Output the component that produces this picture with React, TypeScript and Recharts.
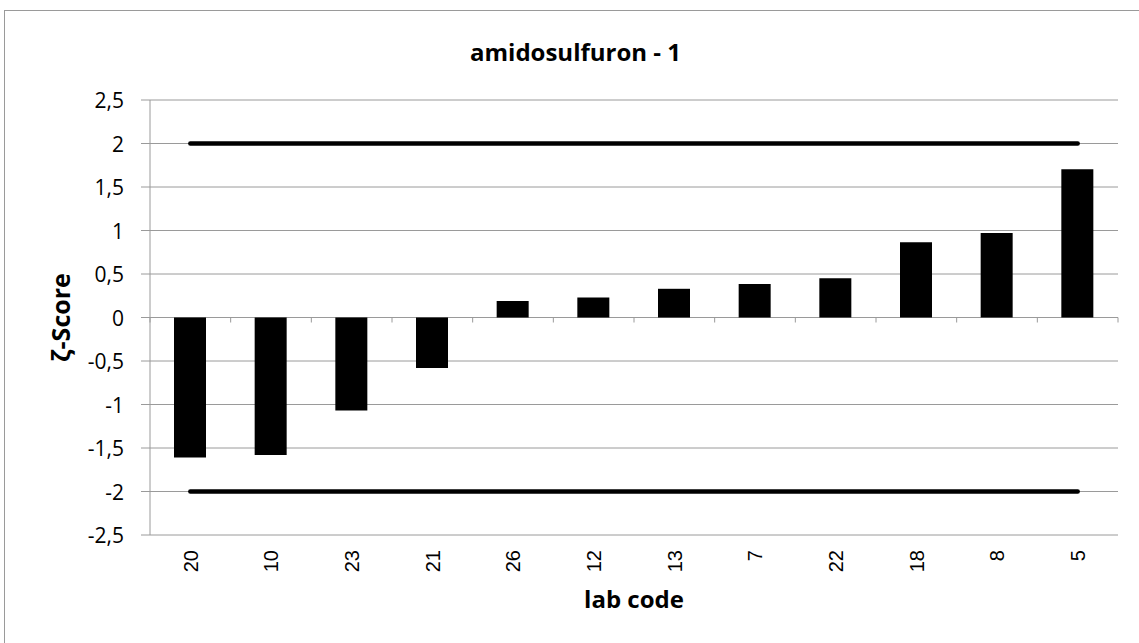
import React from 'react';
import { ComposedChart, Bar, Line, XAxis, YAxis, CartesianGrid } from 'recharts';

// lab codes in plotted order, zeta scores
const labCodes = ['20', '10', '23', '21', '26', '12', '13', '7', '22', '18', '8', '5'];
const zetaScores = [-1.61, -1.58, -1.07, -0.58, 0.19, 0.23, 0.33, 0.385, 0.45, 0.865, 0.97, 1.705];
const upperLimit = [2, 2, 2, 2, 2, 2, 2, 2, 2, 2, 2, 2];
const lowerLimit = [-2, -2, -2, -2, -2, -2, -2, -2, -2, -2, -2, -2];
const yTicks = [-2.5, -2, -1.5, -1, -0.5, 0, 0.5, 1, 1.5, 2, 2.5];

const data = labCodes.map((code, i) => ({
  code,
  score: zetaScores[i],
  upper: upperLimit[i],
  lower: lowerLimit[i],
}));

const W = 1139;
const H = 643;
const M = { top: 100, right: 21, bottom: 0, left: 0 };
const Y_AXIS_W = 150;
const X_AXIS_H = 108;
const PLOT_H = H - M.top - M.bottom - X_AXIS_H;
const PLOT_W = W - M.left - M.right - Y_AXIS_W;
const BAND = PLOT_W / labCodes.length;
// category axis crosses at zero, like the spreadsheet original
const ZERO_Y = M.top + (PLOT_H * 2.5) / 5;

const grey = '#9a9a9a';
const calibriLike = '"Open Sans", Lato, sans-serif';

const XTick = (props: any) => {
  const { x, y, payload, index } = props;
  return (
    <g>
      <line x1={x - BAND / 2} y1={ZERO_Y} x2={x - BAND / 2} y2={ZERO_Y + 5} stroke={grey} />
      {index === labCodes.length - 1 && (
        <line x1={x + BAND / 2} y1={ZERO_Y} x2={x + BAND / 2} y2={ZERO_Y + 5} stroke={grey} />
      )}
      <text
        x={x}
        y={y}
        transform={`rotate(-90, ${x}, ${y})`}
        textAnchor="end"
        dy="0.36em"
        fontFamily='"Liberation Sans", Arial, sans-serif'
        fontSize={20}
        fill="#000"
      >
        {payload.value}
      </text>
    </g>
  );
};

const YTick = (props: any) => {
  const { y, payload } = props;
  return (
    <text
      x={124}
      y={y}
      textAnchor="end"
      dominantBaseline="central"
      fontFamily={calibriLike}
      fontSize={21}
      fill="#000"
    >
      {String(payload.value).replace('.', ',')}
    </text>
  );
};

const yLabel = (props: any) => {
  const vb = props.viewBox;
  const cx = vb.x + 60;
  const cy = vb.y + vb.height / 2;
  return (
    <text
      x={cx}
      y={cy}
      transform={`rotate(-90, ${cx}, ${cy})`}
      textAnchor="middle"
      dominantBaseline="central"
      fontFamily={calibriLike}
      fontWeight="bold"
      fontSize={25}
      fill="#000"
    >
      ζ-Score
    </text>
  );
};

const xLabel = (props: any) => {
  const vb = props.viewBox;
  return (
    <text
      x={vb.x + vb.width / 2}
      y={vb.y + 63}
      textAnchor="middle"
      dominantBaseline="central"
      fontFamily={calibriLike}
      fontWeight="bold"
      fontSize={24}
      fill="#000"
    >
      lab code
    </text>
  );
};

export default function App() {
  return (
    <div style={{ position: 'absolute', left: 0, top: 0, width: W, height: H, background: '#fff' }}>
      <div
        style={{
          position: 'absolute',
          left: 4,
          top: 10,
          width: W - 4,
          height: H - 10,
          borderLeft: `1px solid ${grey}`,
          borderTop: `1px solid ${grey}`,
        }}
      />
      <div
        style={{
          position: 'absolute',
          left: 0,
          width: W + 12,
          top: 35,
          textAlign: 'center',
          fontFamily: calibriLike,
          fontWeight: 'bold',
          fontSize: 24,
          color: '#000',
        }}
      >
        amidosulfuron - 1
      </div>
      <ComposedChart width={W} height={H} data={data} margin={M} style={{ position: 'absolute', left: 0, top: 0 }}>
        <CartesianGrid vertical={false} stroke={grey} />
        <XAxis
          dataKey="code"
          height={X_AXIS_H}
          axisLine={false}
          tickLine={false}
          tickSize={0}
          tickMargin={15}
          interval={0}
          tick={<XTick />}
          label={{ content: xLabel }}
        />
        <YAxis
          width={Y_AXIS_W}
          domain={[-2.5, 2.5]}
          ticks={yTicks}
          interval={0}
          stroke={grey}
          tickSize={9}
          tick={<YTick />}
          label={{ content: yLabel }}
        />
        <Bar dataKey="score" fill="#000" barSize={32} isAnimationActive={false} />
        <Line
          dataKey="upper"
          stroke="#000"
          strokeWidth={4.5}
          strokeLinecap="round"
          dot={false}
          activeDot={false}
          isAnimationActive={false}
        />
        <Line
          dataKey="lower"
          stroke="#000"
          strokeWidth={4.5}
          strokeLinecap="round"
          dot={false}
          activeDot={false}
          isAnimationActive={false}
        />
      </ComposedChart>
    </div>
  );
}
